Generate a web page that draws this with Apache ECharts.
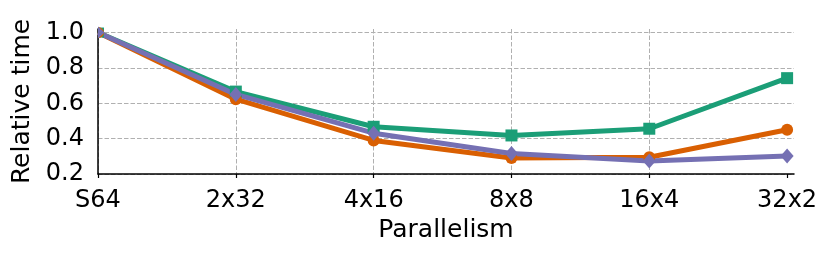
<!DOCTYPE html>
<html><head><meta charset="utf-8">
<script src="https://cdn.jsdelivr.net/npm/echarts@6/dist/echarts.min.js"></script>
<style>html,body{margin:0;padding:0;background:#fff}#c{width:831px;height:257px}</style>
</head><body><div id="c"></div>
<script>
const categories = ['S64', '2x32', '4x16', '8x8', '16x4', '32x2'];
const yTicks = [0.2, 0.4, 0.6, 0.8, 1.0];
const greenSeries = [1.0, 0.666, 0.467, 0.418, 0.456, 0.742];
const orangeSeries = [1.0, 0.623, 0.390, 0.290, 0.295, 0.450];
const purpleSeries = [1.0, 0.650, 0.431, 0.316, 0.274, 0.302];

const font = 'DejaVu Sans';
const chart = echarts.init(document.getElementById('c'), null, {renderer: 'canvas'});
const gridLine = {show: true, showMaxLine: false, lineStyle: {color: '#b0b0b0', type: [4.5, 2], width: 1}};
// markers on the left edge are clipped by the axes (as in the original): draw only their right half
function ser(data, color, symbol, size, halfSymbol, halfSize) {
  const pts = data.map((v, i) => i === 0
    ? {value: [i, v], symbol: halfSymbol, symbolSize: halfSize, symbolOffset: [halfSize[0] / 2, 0]}
    : [i, v]);
  return {type: 'line', data: pts, symbol: symbol, symbolSize: size,
    lineStyle: {color: color, width: 5}, itemStyle: {color: color}, animation: false};
}
chart.setOption({
  animation: false,
  grid: {left: 98, right: 37, top: 29, bottom: 83, containLabel: false},
  xAxis: {
    type: 'value', min: 0, max: 5.05, interval: 1,
    name: 'Parallelism', nameLocation: 'middle', nameGap: 43,
    nameTextStyle: {fontFamily: font, fontSize: 25, color: '#000'},
    axisLine: {show: true, onZero: false, lineStyle: {color: '#000', width: 1.5}},
    axisTick: {show: true, length: 4, customValues: [0, 1, 2, 3, 4, 5], lineStyle: {color: '#000', width: 1.2}},
    axisLabel: {customValues: [0, 1, 2, 3, 4, 5], formatter: v => categories[Math.round(v)] || '',
      fontFamily: font, fontSize: 24, color: '#000', margin: 15},
    splitLine: gridLine
  },
  yAxis: {
    type: 'value', min: 0.2, max: 1.02, interval: 0.2,
    name: 'Relative time', nameLocation: 'middle', nameGap: 59, nameRotate: 90,
    nameTextStyle: {fontFamily: font, fontSize: 25, color: '#000'},
    axisLine: {show: true, lineStyle: {color: '#000', width: 1.5}},
    axisTick: {show: false},
    axisLabel: {customValues: yTicks, formatter: v => v.toFixed(1),
      fontFamily: font, fontSize: 24, color: '#000', margin: 14},
    splitLine: gridLine
  },
  series: [
    ser(greenSeries, '#1b9e77', 'rect', 12, 'rect', [6, 10]),
    ser(orangeSeries, '#d95f02', 'circle', 12, 'path://M0,0 A6,6 0 0 1 0,12 Z', [6, 11]),
    ser(purpleSeries, '#7570b3', 'diamond', [13, 15], 'path://M0,0 L6,7 L0,14 Z', [6.5, 12])
  ]
});
</script></body></html>
